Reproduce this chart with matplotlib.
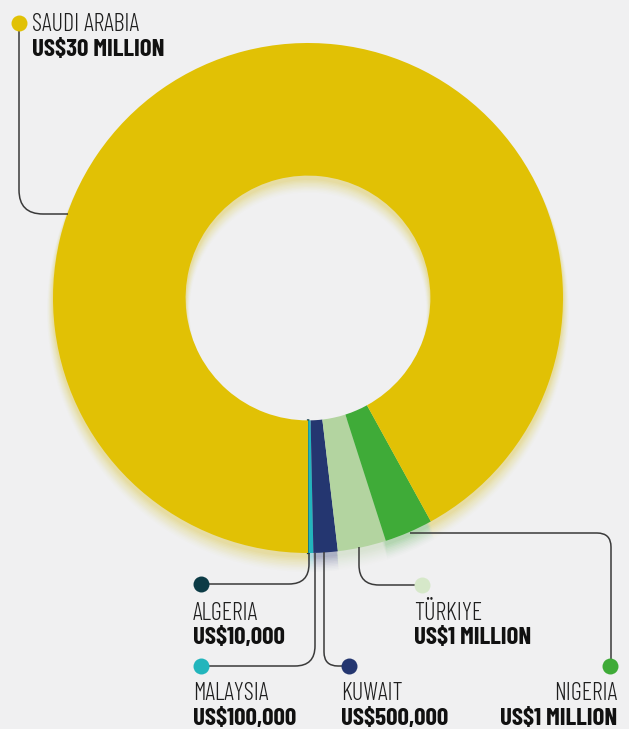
import matplotlib.pyplot as plt
import numpy as np
from matplotlib.path import Path
from matplotlib.patches import PathPatch

# donut data, in drawing order starting at the bottom and going anticlockwise
countries = ["ALGERIA", "MALAYSIA", "KUWAIT", "TÜRKIYE", "NIGERIA", "SAUDI ARABIA"]
values_musd = [0.01, 0.1, 0.5, 1.0, 1.0, 30.0]
value_labels = ["US$10,000", "US$100,000", "US$500,000", "US$1 MILLION",
                "US$1 MILLION", "US$30 MILLION"]
colors = ["#0c3b46", "#22b5bc", "#243670", "#b3d4a0", "#3fab38", "#e1c105"]
dot_colors = ["#0c3b46", "#22b5bc", "#243670", "#d6e8c9", "#3fab38", "#e1c105"]

W, H = 629, 729
bg = "#f0f0f1"
line_col = "#3a3a3a"
fam = ["Barlow Condensed", "DejaVu Sans"]

fig = plt.figure(figsize=(W / 100, H / 100), dpi=100, facecolor=bg)
ax = fig.add_axes([0, 0, 1, 1])
ax.set_facecolor(bg)

center = (308, 298)
radius = 255
ring = 0.52

# soft drop shadow under the ring
for k, a in zip(range(1, 11), np.linspace(0.06, 0.015, 10)):
    ax.pie(values_musd, colors=colors, startangle=90, counterclock=False,
           center=(center[0], center[1] + 3 + k), radius=radius + k * 0.6,
           wedgeprops=dict(width=ring * radius + k, alpha=a, linewidth=0),
           frame=True)

wedges, _ = ax.pie(values_musd, colors=colors, startangle=90, counterclock=False,
                   center=center, radius=radius,
                   wedgeprops=dict(width=ring * radius, linewidth=0),
                   frame=True)
# tiny Algeria slice gets an outline so it shows as a thin line
wedges[0].set_edgecolor(colors[0])
wedges[0].set_linewidth(1.6)

ax.set_xlim(0, W)
ax.set_ylim(H, 0)
ax.set_aspect("equal")
ax.axis("off")


def leader(points, r):
    # polyline with one rounded corner at points[1]
    a, c, b = [np.array(p, dtype=float) for p in points]
    d1 = (c - a) / np.linalg.norm(c - a)
    d2 = (b - c) / np.linalg.norm(b - c)
    verts = [a, c - d1 * r, c, c + d2 * r, b]
    codes = [Path.MOVETO, Path.LINETO, Path.CURVE3, Path.CURVE3, Path.LINETO]
    ax.add_patch(PathPatch(Path(verts, codes), fill=False,
                           edgecolor=line_col, linewidth=1.1, zorder=3))


# leader lines: start, corner, end
leaders = [
    [(309, 553), (309, 584), (201, 584)],
    [(315, 553), (315, 666), (201, 666)],
    [(324, 552), (324, 666), (349, 666)],
    [(359, 547), (359, 585), (422, 585)],
    [(410, 533), (611, 533), (611, 666)],
    [(19, 23), (19, 214), (68, 214)],
]
radii = [20, 20, 14, 20, 14, 24]
for pts, r in zip(leaders, radii):
    leader(pts, r)

dots = [(201, 584), (201, 666), (349, 666), (422, 585), (610, 666), (19, 23)]
for (x, y), c in zip(dots, dot_colors):
    ax.plot(x, y, "o", ms=11.5, color=c, mec="none", zorder=4)

# label positions: x, baseline of name, baseline of value, alignment
label_pos = [
    (193, 620, 644, "left"),
    (193, 700, 725, "left"),
    (341, 700, 725, "left"),
    (414, 620, 644, "left"),
    (617, 700, 725, "right"),
    (32, 31, 56, "left"),
]
for name, val, (x, y1, y2, ha) in zip(countries, value_labels, label_pos):
    ax.text(x, y1, name, ha=ha, va="baseline", fontsize=17.5,
            family=fam, fontweight=300, color="#1e1e1e")
    ax.text(x, y2, val, ha=ha, va="baseline", fontsize=18,
            family=fam, fontweight="bold", color="#111111")

fig.savefig("out.png", dpi=100, facecolor=bg)
